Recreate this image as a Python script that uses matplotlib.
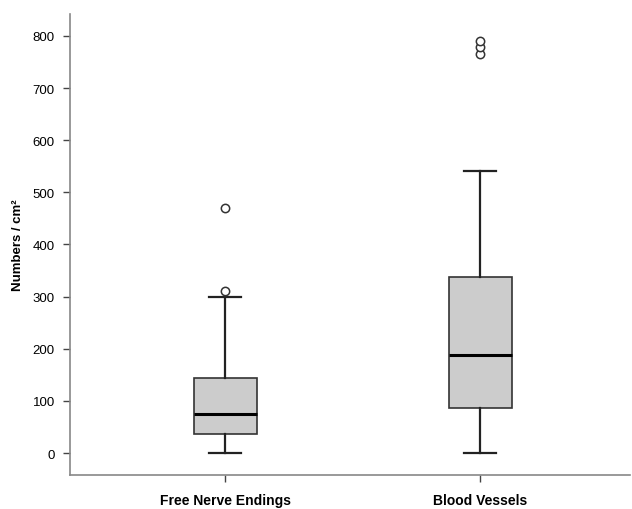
import matplotlib
matplotlib.use("Agg")
import matplotlib.pyplot as plt

categories = ["Free Nerve Endings", "Blood Vessels"]
whisker_low = [0, 0]
q1 = [36, 86]
median = [74, 188]
q3 = [144, 338]
whisker_high = [300, 541]
outliers = [[310, 470], [766, 778, 790]]
yticks = [0, 100, 200, 300, 400, 500, 600, 700, 800]

plt.rcParams['font.family'] = ['Liberation Sans', 'DejaVu Sans']

fig = plt.figure(figsize=(6.32, 5.10), dpi=100)
ax = fig.add_axes([0.1108, 0.0667, 0.886, 0.9039])

stats = []
for i, c in enumerate(categories):
    stats.append(dict(label=c, whislo=whisker_low[i], q1=q1[i], med=median[i],
                      q3=q3[i], whishi=whisker_high[i], fliers=outliers[i]))

ax.bxp(stats, positions=[1, 2], widths=0.247, patch_artist=True, showfliers=True,
       boxprops=dict(facecolor='#cccccc', edgecolor='#333333', linewidth=1.2),
       medianprops=dict(color='black', linewidth=2.2),
       whiskerprops=dict(color='#222222', linewidth=1.6),
       capprops=dict(color='#222222', linewidth=1.6),
       capwidths=0.125,
       flierprops=dict(marker='o', markersize=6, markerfacecolor='white',
                       markeredgecolor='#333333', markeredgewidth=1.1))

ax.set_xlim(0.392, 2.588)
ax.set_ylim(-42, 842)
ax.set_yticks(yticks)
ax.set_yticklabels([str(t) for t in yticks], fontsize=9.5)
ax.set_xticks([1, 2])
ax.set_xticklabels(categories, fontsize=10, fontweight='bold')
ax.set_ylabel("Numbers / cm²", fontsize=9.5, fontweight='bold', labelpad=6)

for s in ['top', 'right']:
    ax.spines[s].set_visible(False)
for s in ['left', 'bottom']:
    ax.spines[s].set_color('#888888')
    ax.spines[s].set_linewidth(1.2)
ax.tick_params(axis='y', length=5, color='#444444', width=1.0, pad=6)
ax.tick_params(axis='x', length=5, color='#444444', width=1.0, pad=8)

fig.savefig("out.png", dpi=100, facecolor='white')
